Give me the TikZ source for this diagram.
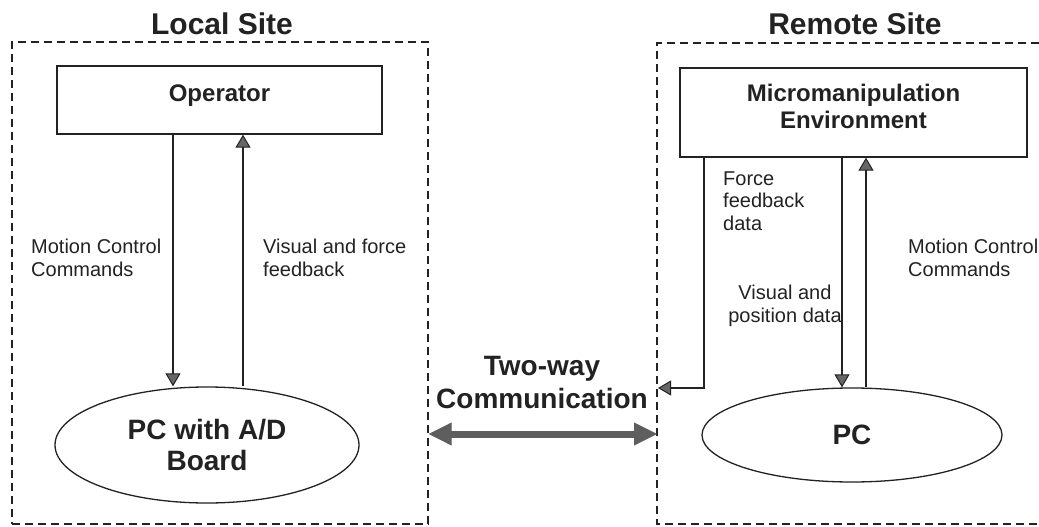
\documentclass[tikz,border=0pt]{standalone}
\usepackage{fontspec}
\setmainfont{Liberation Sans}
\usetikzlibrary{shapes.geometric,arrows.meta,calc}
\definecolor{ink}{HTML}{222222}
\definecolor{tipgray}{HTML}{666666}
\definecolor{commgray}{HTML}{5E5E5E}
\begin{document}
\begin{tikzpicture}[x=1pt,y=-1pt,
  site/.style={draw=ink, dash pattern=on 8pt off 5pt, line width=1.4pt},
  sitetitle/.style={font=\fontsize{30}{34}\selectfont\bfseries, text=ink, inner sep=0},
  block/.style={draw=ink, line width=1.3pt, font=\fontsize{24}{27}\selectfont\bfseries, text=ink, align=center, inner sep=0},
  oval/.style={ellipse, draw=ink, line width=1.3pt, font=\fontsize{28}{31}\selectfont\bfseries, text=ink, align=center, inner sep=0},
  lbl/.style={font=\fontsize{20}{22.5}\selectfont, text=ink, align=left, inner sep=0},
  flow/.style={draw=ink, line width=1.3pt, -{Triangle[length=13pt,width=15pt,line width=1pt,fill=tipgray]}},
  comm/.style={draw=commgray, line width=7pt,
    {Triangle[length=23pt,width=23pt,line width=1pt]}-{Triangle[length=23pt,width=23pt,line width=1pt]}}
]
\useasboundingbox (0,0) rectangle (1039,527);

% site frames
\node[site, minimum width=416pt, minimum height=482pt, inner sep=0] (local) at (220,283) {};
\coordinate (rtop) at (657,43);
\coordinate (rbot) at (657,524);
\draw[site] (1039,43) -- (rtop) -- (rbot) -- (1039,524);

\node[sitetitle] (ltitle) at (222,24) {Local Site};
\node[sitetitle] (rtitle) at (855,24) {Remote Site};

% local site
\node[block, minimum width=325pt, minimum height=68pt, text depth=13pt] (op) at (219.5,100) {Operator};
\node[oval, minimum width=304pt, minimum height=116pt] (pc1) at (207,445) {PC with A/D\\Board};

\coordinate (xa) at (173,0);
\coordinate (xb) at (243,0);
\draw[flow] (op.south -| xa) -- (pc1.north -| xa);
\draw[flow] (pc1.north -| xb) -- (op.south -| xb);

\node[lbl, anchor=west] (mcc1) at (31,258) {Motion Control\\Commands};
\node[lbl, anchor=west] (vff) at (263,258) {Visual and force\\feedback};

% remote site
\node[block, minimum width=347pt, minimum height=89pt, text depth=12pt] (mm) at (853.5,112.5) {Micromanipulation\\Environment};
\node[oval, minimum width=300pt, minimum height=94pt] (pc2) at (852,435) {PC};

\coordinate (xf) at (704,0);
\coordinate (xd) at (842,0);
\coordinate (xu) at (866,0);
\coordinate (ffend) at (658,388);
\draw[flow] (mm.south -| xf) -- (xf |- ffend) -- (ffend);
\draw[flow] (mm.south -| xd) -- (pc2.north -| xd);
\draw[flow] (pc2.north -| xu) -- (mm.south -| xu);

\node[lbl, anchor=west] (ffd) at (723,201) {Force\\feedback\\data};
\node[lbl, anchor=west] (mcc2) at (908,258) {Motion Control\\Commands};
\node[lbl, align=center] (vpd) at (785,306) {Visual and\\position data};

% communication
\node[font=\fontsize{28}{33}\selectfont\bfseries, text=ink, align=center, inner sep=0] (twc) at (542,383) {Two-way\\Communication};
\coordinate (cl) at (local.east |- 0,434);
\coordinate (cr) at (rtop |- 0,434);
\draw[comm] (cl) -- (cr);
\end{tikzpicture}
\end{document}
